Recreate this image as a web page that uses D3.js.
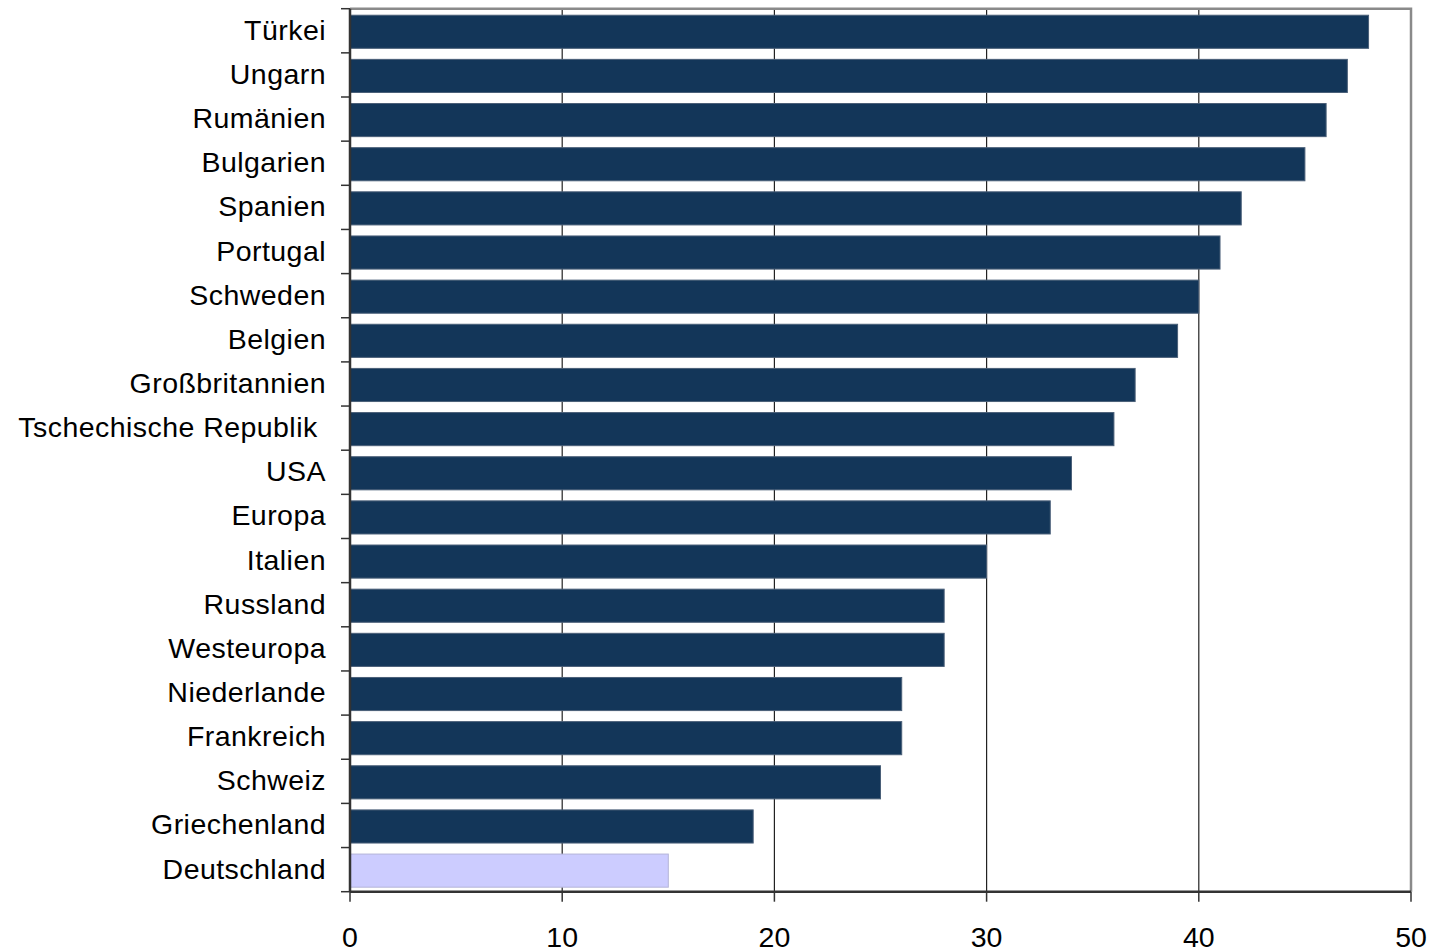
<!DOCTYPE html>
<html><head><meta charset="utf-8">
<script src="https://cdn.jsdelivr.net/npm/d3@7"></script>
<style>body{margin:0;background:#fff}svg{display:block}</style>
</head><body>
<svg id="c" width="1434" height="952"></svg>
<script>
const categories = ["Türkei","Ungarn","Rumänien","Bulgarien","Spanien","Portugal","Schweden","Belgien","Großbritannien","Tschechische Republik ","USA","Europa","Italien","Russland","Westeuropa","Niederlande","Frankreich","Schweiz","Griechenland","Deutschland"];
const values = [48,47,46,45,42,41,40,39,37,36,34,33,30,28,28,26,26,25,19,15];
const highlight = ["Deutschland"];
const xTicks = [0,10,20,30,40,50];

const svg = d3.select("#c");
const L = 350, R = 1411, T = 8.7, B = 891.7;
const x = d3.scaleLinear().domain([0,50]).range([L,R]);
const y = d3.scaleBand().domain(categories).range([T,B]).paddingInner(0.25).paddingOuter(0.125);
const data = categories.map((c,i)=>({c, v: values[i]}));

// grid
svg.append("g").selectAll("line").data(xTicks.filter(t=>t>0&&t<50)).join("line")
  .attr("x1",d=>x(d)).attr("x2",d=>x(d)).attr("y1",T).attr("y2",B)
  .attr("stroke","#222").attr("stroke-width",1.2);

// frame top/right
svg.append("path").attr("d",`M${L},${T}H${R}V${B}`).attr("fill","none").attr("stroke","#8a8a8a").attr("stroke-width",2.5);

// bars
svg.append("g").selectAll("rect").data(data).join("rect")
  .attr("x",x(0)).attr("y",d=>y(d.c)+1)
  .attr("width",d=>x(d.v)-x(0)).attr("height",y.bandwidth())
  .attr("fill",d=>highlight.includes(d.c)?"#ccccff":"#133659")
  .attr("stroke",d=>highlight.includes(d.c)?"#b4b4d8":"#4a5f78").attr("stroke-width",1);

// y axis
const yb = d3.scaleLinear().domain([0,categories.length]).range([T,B]);
const gy = svg.append("g");
gy.append("line").attr("x1",L).attr("x2",L).attr("y1",T).attr("y2",B).attr("stroke","#333").attr("stroke-width",2.5);
gy.selectAll("line.t").data(d3.range(categories.length+1)).join("line").attr("class","t")
  .attr("x1",L-9).attr("x2",L).attr("y1",d=>yb(d)).attr("y2",d=>yb(d)).attr("stroke","#333").attr("stroke-width",1.5);
gy.selectAll("text").data(categories).join("text")
  .attr("x",326).attr("y",d=>y(d)+y.bandwidth()/2-1)
  .attr("text-anchor","end").attr("dominant-baseline","central")
  .attr("font-family","Liberation Sans, Arial, sans-serif").attr("font-size",28.5)
  .attr("letter-spacing",0.45)
  .attr("fill","#000").style("white-space","pre")
  .text(d=>d);

// x axis
const gx = svg.append("g");
gx.append("line").attr("x1",L).attr("x2",R).attr("y1",B).attr("y2",B).attr("stroke","#333").attr("stroke-width",2.5);
gx.selectAll("line.t").data(xTicks).join("line").attr("class","t")
  .attr("x1",d=>x(d)).attr("x2",d=>x(d)).attr("y1",B).attr("y2",B+10).attr("stroke","#333").attr("stroke-width",1.5);
gx.selectAll("text").data(xTicks).join("text")
  .attr("x",d=>x(d)).attr("y",947)
  .attr("text-anchor","middle")
  .attr("font-family","Liberation Sans, Arial, sans-serif").attr("font-size",28.5)
  .attr("fill","#000").text(d=>d);
</script>
</body></html>
